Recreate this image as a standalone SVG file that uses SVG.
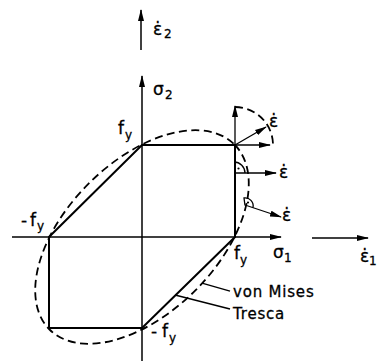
<svg xmlns="http://www.w3.org/2000/svg" width="377" height="361" viewBox="0 0 377 361">
<defs>
<marker id="ah" markerUnits="userSpaceOnUse" markerWidth="12" markerHeight="7" refX="11" refY="3.5" orient="auto">
<path d="M0,0.5 L12,3.5 L0,6.5 z" fill="#000"/>
</marker>
<style>
.ax{stroke:#000;fill:none;stroke-width:1.5}
.tr{stroke:#000;fill:none;stroke-width:2}
.vm{stroke:#000;fill:none;stroke-width:1.8;stroke-dasharray:8 4.5}
.ln{stroke:#000;fill:none;stroke-width:1.3}
text{font-family:"DejaVu Sans","Liberation Sans",sans-serif;fill:#000;stroke:#000;stroke-width:0.3}
.s{font-size:17px}
.sub{font-size:12px}
.lbl{font-size:15px;letter-spacing:0.8px}
</style>
</defs>
<rect width="377" height="361" fill="#fff"/>
<g id="axes">
<line class="ax" x1="141" y1="50" x2="141" y2="10" marker-end="url(#ah)"/>
<line class="ax" x1="142" y1="361" x2="142" y2="76" stroke-width="1.2" marker-end="url(#ah)"/>
<line class="ax" x1="12" y1="237" x2="281" y2="237" stroke-width="1.8" marker-end="url(#ah)"/>
<line class="ax" x1="312" y1="238" x2="368" y2="238" marker-end="url(#ah)"/>
</g>
<g id="tresca">
<path class="tr" d="M142,145 L235,145 L235,237 L142,328 L49,328 L49,237 Z"/>
</g>
<g id="vonmises">
<ellipse class="vm" cx="142" cy="237" rx="130.8" ry="75.5" transform="rotate(-45 142 237)"/>
</g>
<g id="connectors">
<line class="ln" x1="235" y1="145" x2="235" y2="106" marker-end="url(#ah)"/>
<line class="ln" x1="235" y1="145" x2="270" y2="145" marker-end="url(#ah)"/>
<line class="ln" x1="235" y1="145" x2="266" y2="127" marker-end="url(#ah)"/>
<path class="vm" stroke-width="1.4" d="M235,107 A38,38 0 0 1 273,145"/>
<line class="ln" x1="234" y1="173" x2="276" y2="173" marker-end="url(#ah)"/>
<path class="ln" d="M234,162 A11,11 0 0 1 245,173"/>
<circle cx="238.5" cy="168.5" r="1.1" fill="#000"/>
<line class="ln" x1="245" y1="205" x2="281" y2="217" marker-end="url(#ah)"/>
<path class="ln" d="M245,205.5 L244,198 A8,8 0 0 1 253,207.5"/>
<circle cx="248" cy="202.5" r="1.1" fill="#000"/>
<line class="ln" x1="202" y1="283" x2="230" y2="291"/>
<line class="ln" x1="175" y1="295" x2="230" y2="309"/>
</g>
<g id="labels">
<text class="s" x="153" y="35">ε̇</text><text class="sub" x="164" y="38">2</text>
<text class="s" x="153" y="95">σ</text><text class="sub" x="165" y="99">2</text>
<text class="s" x="118" y="134">f</text><text class="sub" x="125" y="139">y</text>
<text class="s" x="21" y="226">-</text><text class="s" x="30" y="226">f</text><text class="sub" x="37" y="230">y</text>
<text class="s" x="234" y="259">f</text><text class="sub" x="240" y="264">y</text>
<text class="s" x="273" y="258">σ</text><text class="sub" x="284" y="262">1</text>
<text class="s" x="151" y="337">-</text><text class="s" x="162" y="337">f</text><text class="sub" x="169" y="342">y</text>
<text class="s" x="269" y="127">ε̇</text>
<text class="s" x="279" y="178">ε̇</text>
<text class="s" x="282" y="221">ε̇</text>
<text class="s" x="360" y="262">ε̇</text><text class="sub" x="369" y="265" font-size="10">1</text>
<text class="lbl" x="233" y="297">von Mises</text>
<text class="lbl" x="233" y="319">Tresca</text>
</g>
</svg>
